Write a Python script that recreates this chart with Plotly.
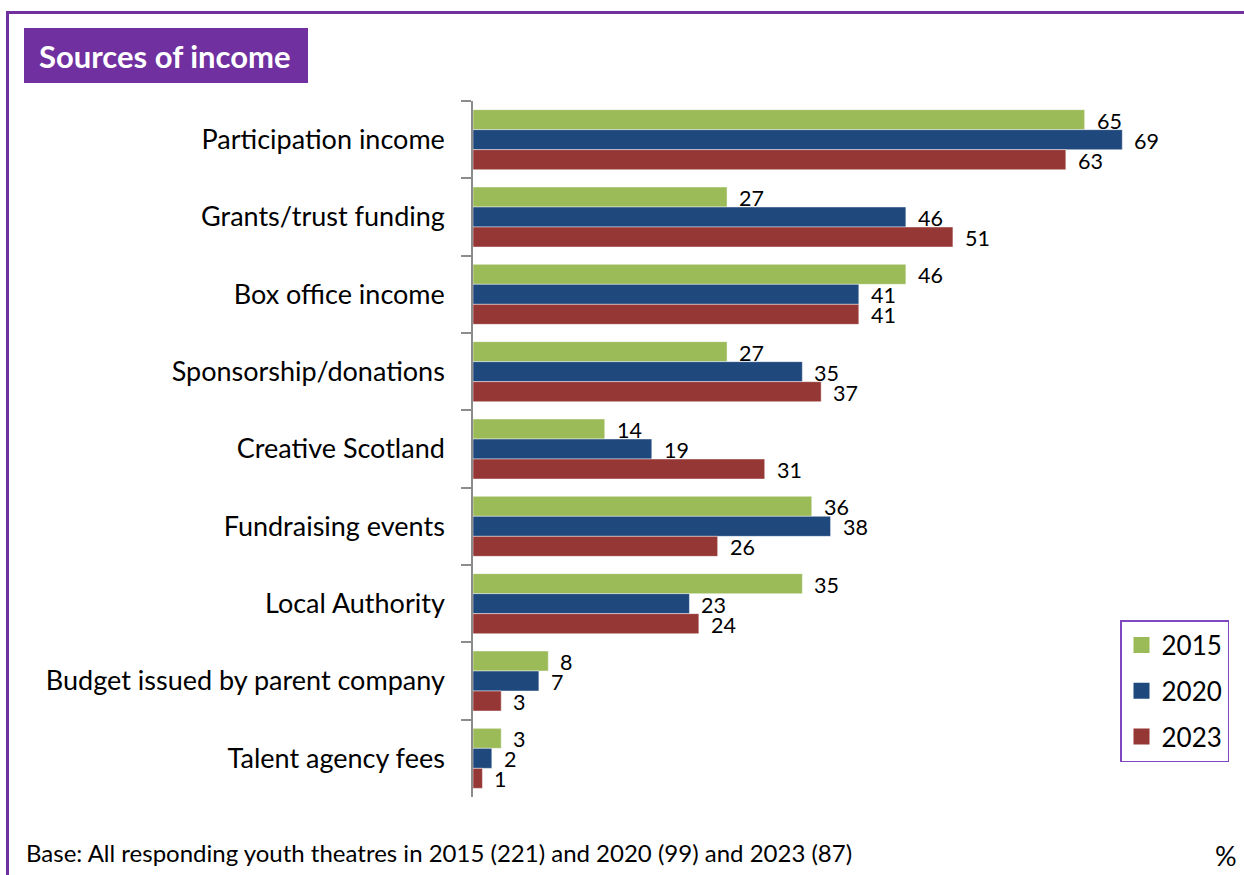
import plotly.graph_objects as go

# Income sources and share of youth theatres reporting each (%)
categories = [
    "Participation income",
    "Grants/trust funding",
    "Box office income",
    "Sponsorship/donations",
    "Creative Scotland",
    "Fundraising events",
    "Local Authority",
    "Budget issued by parent company",
    "Talent agency fees",
]
years = ["2015", "2020", "2023"]
values_2015 = [65, 27, 46, 27, 14, 36, 35, 8, 3]
values_2020 = [69, 46, 41, 35, 19, 38, 23, 7, 2]
values_2023 = [63, 51, 41, 37, 31, 26, 24, 3, 1]
series = [values_2015, values_2020, values_2023]
colors = ["#9BBB59", "#1F497D", "#953735"]

W, H = 1244, 875
L, R, T, B = 473, 18, 101, 78
PW, PH = W - L - R, H - T - B
FONT = "Lato, 'Open Sans', sans-serif"
PURPLE = "#7030A0"
BAR_PX = 20  # thickness of one bar in the group


def px_x(px):
    return (px - L) / PW


def px_y(py):
    return (H - B - py) / PH


fig = go.Figure()
annotations = []
for i, (year, vals, col) in enumerate(zip(years, series, colors)):
    fig.add_trace(go.Bar(
        y=categories, x=vals, name=year, orientation="h",
        marker=dict(color=col, line=dict(color="rgba(255,255,255,0.45)", width=1)),
        showlegend=False,
    ))
    # legend entry with a square swatch
    fig.add_trace(go.Scatter(
        x=[None], y=[None], mode="markers", name=year, legendgroup=year,
        marker=dict(symbol="square", size=17, color=col),
    ))
    # value labels just past the end of each bar
    for cat, v in zip(categories, vals):
        annotations.append(dict(
            x=v, y=cat, xref="x", yref="y", text=str(v), showarrow=False,
            xanchor="left", yanchor="middle", xshift=10, yshift=(1 - i) * BAR_PX - 1,
            font=dict(family=FONT, size=21.5, color="#000000"),
        ))

shapes = [
    # frame lines (top and left)
    dict(type="line", xref="paper", yref="paper",
         x0=px_x(7.5), x1=px_x(W + 5), y0=px_y(12.5), y1=px_y(12.5),
         line=dict(color=PURPLE, width=3)),
    dict(type="line", xref="paper", yref="paper",
         x0=px_x(7.5), x1=px_x(7.5), y0=px_y(11), y1=px_y(H + 5),
         line=dict(color=PURPLE, width=3)),
    # title box
    dict(type="rect", xref="paper", yref="paper",
         x0=px_x(24), x1=px_x(308), y0=px_y(28), y1=px_y(83),
         fillcolor=PURPLE, line=dict(width=0)),
]

annotations += [
    dict(text="<b>Sources of income</b>", xref="paper", yref="paper",
         x=px_x(37), y=px_y(55.5), xanchor="left", yanchor="middle",
         showarrow=False, font=dict(family=FONT, size=31, color="white")),
    dict(text="Base: All responding youth theatres in 2015 (221) and 2020 (99) and 2023 (87)",
         xref="paper", yref="paper", x=px_x(24), y=px_y(852),
         xanchor="left", yanchor="middle", showarrow=False,
         font=dict(family=FONT, size=24, color="#000000")),
    dict(text="%", xref="paper", yref="paper", x=px_x(1239), y=px_y(855),
         xanchor="right", yanchor="middle", showarrow=False,
         font=dict(family=FONT, size=27, color="#000000")),
]

fig.update_layout(
    width=W, height=H,
    margin=dict(l=L, r=R, t=T, b=B, pad=0),
    paper_bgcolor="white", plot_bgcolor="white",
    barmode="group", bargap=0.224, bargroupgap=0,
    font=dict(family=FONT, color="#000000"),
    shapes=shapes, annotations=annotations,
    showlegend=True,
    legend=dict(
        x=px_x(1120), y=px_y(620), xanchor="left", yanchor="top",
        bordercolor="#8048C0", borderwidth=1.5, bgcolor="white",
        font=dict(family=FONT, size=26, color="#000000"),
        itemsizing="trace", tracegroupgap=9,
        traceorder="grouped", itemwidth=30,
    ),
    xaxis=dict(range=[0, PW / 9.41], visible=False, fixedrange=True),
    yaxis=dict(
        autorange="reversed", type="category",
        showline=True, linecolor="#8C8C8C", linewidth=1.5,
        ticks="outside", tickson="boundaries", ticklen=10,
        tickcolor="#8C8C8C", tickwidth=1.5,
        showgrid=False, ticklabelstandoff=21,
        tickfont=dict(family=FONT, size=27, color="#000000"),
    ),
)

fig.write_html("out.html")
